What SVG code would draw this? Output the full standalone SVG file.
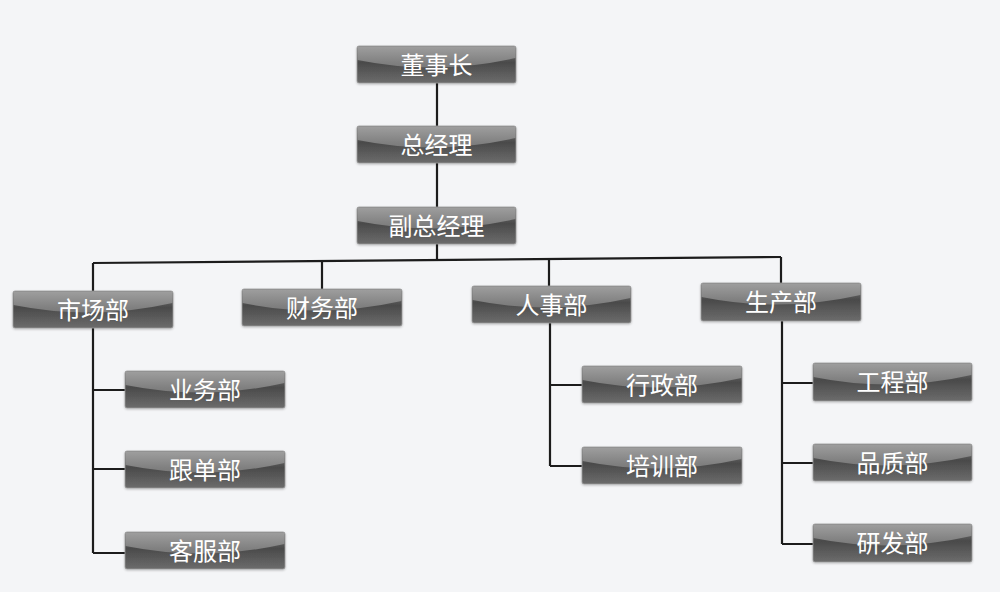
<svg xmlns="http://www.w3.org/2000/svg" width="1000" height="592" viewBox="0 0 1000 592">
<defs>
<linearGradient id="base" x1="0" y1="0" x2="0" y2="1">
<stop offset="0" stop-color="#7a7a7a"/>
<stop offset="0.45" stop-color="#4a4a4a"/>
<stop offset="1" stop-color="#6c6c6c"/>
</linearGradient>
<linearGradient id="hi" x1="0" y1="0" x2="0" y2="1">
<stop offset="0" stop-color="#a2a2a2"/>
<stop offset="1" stop-color="#7e7e7e"/>
</linearGradient>
<filter id="sh" x="-10%" y="-20%" width="120%" height="150%">
<feDropShadow dx="0" dy="1" stdDeviation="1" flood-color="#000" flood-opacity="0.25"/>
</filter>
</defs>
<style>
.bg{fill:#f4f5f7}
.box{fill:url(#base);stroke:#9a9a9a;stroke-width:0.8;filter:url(#sh)}
.hl{fill:url(#hi);opacity:0.9}
.t{fill:#ffffff;font-family:"Noto Sans CJK SC","Noto Sans",sans-serif;font-size:24px;text-anchor:middle}
.c{stroke:#1c1c1c;stroke-width:2.2;fill:none}
</style>
<rect class="bg" x="0" y="0" width="1000" height="592"/>
<g id="connectors">
<path class="c" d="M437 83 V126 M437 163 V207 M437 244 V260"/>
<path class="c" d="M93 263 L781 257"/>
<path class="c" d="M93 263 V291 M322 261 V289 M549 259 V286 M781 257 V283"/>
<path class="c" d="M93 328 V553 M93 390 H125 M93 469 H125 M93 553 H125"/>
<path class="c" d="M550 323 V466 M550 385 H582 M550 466 H582"/>
<path class="c" d="M782 321 V544 M782 383 H813 M782 463 H813 M782 544 H813"/>
</g>
<g id="n1"><rect class="box" x="357" y="46" width="159" height="37" rx="2"/><path class="hl" d="M357.5 46.5 H515.5 V58 Q436.5 76 357.5 60 Z"/><text class="t" x="436.5" y="74">董事长</text></g>
<g id="n2"><rect class="box" x="357" y="126" width="159" height="37" rx="2"/><path class="hl" d="M357.5 126.5 H515.5 V138 Q436.5 156 357.5 140 Z"/><text class="t" x="436.5" y="154">总经理</text></g>
<g id="n3"><rect class="box" x="357" y="207" width="159" height="37" rx="2"/><path class="hl" d="M357.5 207.5 H515.5 V219 Q436.5 237 357.5 221 Z"/><text class="t" x="436.5" y="235">副总经理</text></g>
<g id="n4"><rect class="box" x="13" y="291" width="160" height="37" rx="2"/><path class="hl" d="M13.5 291.5 H172.5 V303 Q93 321 13.5 305 Z"/><text class="t" x="93" y="319">市场部</text></g>
<g id="n5"><rect class="box" x="242" y="289" width="160" height="37" rx="2"/><path class="hl" d="M242.5 289.5 H401.5 V301 Q322 319 242.5 303 Z"/><text class="t" x="322" y="317">财务部</text></g>
<g id="n6"><rect class="box" x="472" y="286" width="159" height="37" rx="2"/><path class="hl" d="M472.5 286.5 H630.5 V298 Q551.5 316 472.5 300 Z"/><text class="t" x="551.5" y="314">人事部</text></g>
<g id="n7"><rect class="box" x="701" y="283" width="160" height="38" rx="2"/><path class="hl" d="M701.5 283.5 H860.5 V295 Q781 313 701.5 297 Z"/><text class="t" x="781" y="311">生产部</text></g>
<g id="n8"><rect class="box" x="125" y="371" width="160" height="37" rx="2"/><path class="hl" d="M125.5 371.5 H284.5 V383 Q205 401 125.5 385 Z"/><text class="t" x="205" y="399">业务部</text></g>
<g id="n9"><rect class="box" x="125" y="451" width="160" height="37" rx="2"/><path class="hl" d="M125.5 451.5 H284.5 V463 Q205 481 125.5 465 Z"/><text class="t" x="205" y="479">跟单部</text></g>
<g id="n10"><rect class="box" x="125" y="532" width="160" height="37" rx="2"/><path class="hl" d="M125.5 532.5 H284.5 V544 Q205 562 125.5 546 Z"/><text class="t" x="205" y="560">客服部</text></g>
<g id="n11"><rect class="box" x="582" y="366" width="160" height="37" rx="2"/><path class="hl" d="M582.5 366.5 H741.5 V378 Q662 396 582.5 380 Z"/><text class="t" x="662" y="394">行政部</text></g>
<g id="n12"><rect class="box" x="582" y="447" width="160" height="37" rx="2"/><path class="hl" d="M582.5 447.5 H741.5 V459 Q662 477 582.5 461 Z"/><text class="t" x="662" y="475">培训部</text></g>
<g id="n13"><rect class="box" x="813" y="363" width="159" height="38" rx="2"/><path class="hl" d="M813.5 363.5 H971.5 V375 Q892.5 393 813.5 377 Z"/><text class="t" x="892.5" y="391">工程部</text></g>
<g id="n14"><rect class="box" x="813" y="444" width="159" height="37" rx="2"/><path class="hl" d="M813.5 444.5 H971.5 V456 Q892.5 474 813.5 458 Z"/><text class="t" x="892.5" y="472">品质部</text></g>
<g id="n15"><rect class="box" x="813" y="524" width="159" height="38" rx="2"/><path class="hl" d="M813.5 524.5 H971.5 V536 Q892.5 554 813.5 538 Z"/><text class="t" x="892.5" y="552">研发部</text></g>
</svg>
